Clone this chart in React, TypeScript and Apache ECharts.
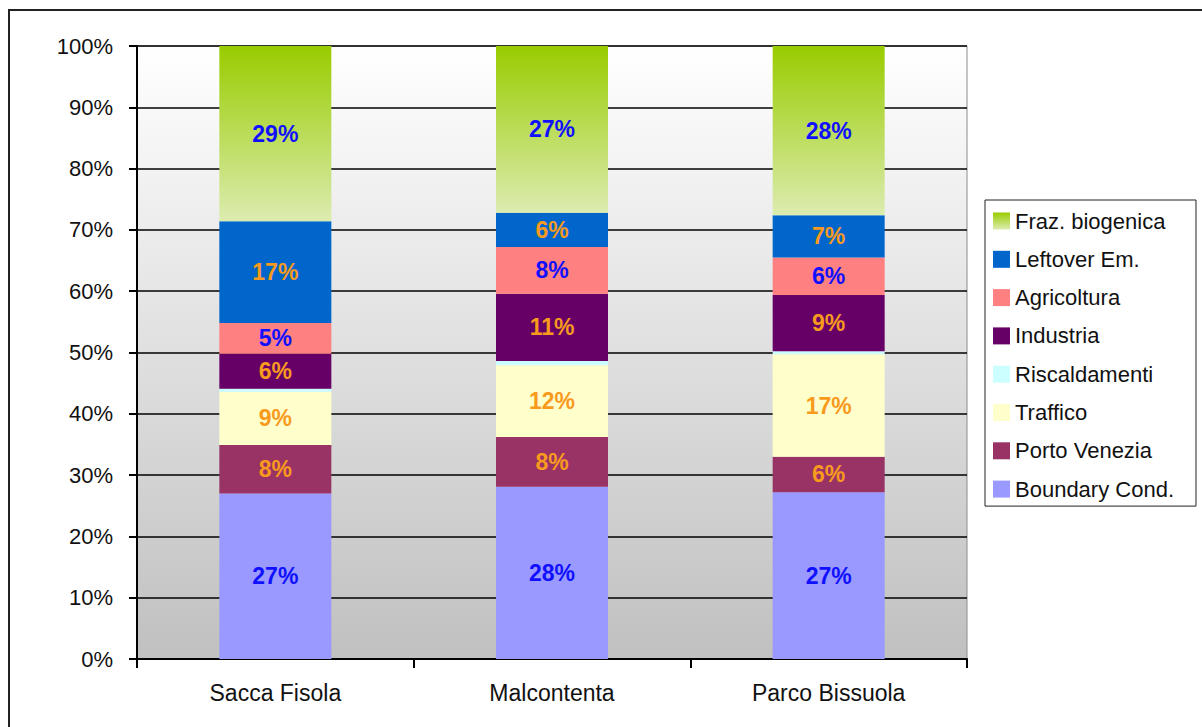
import React, { useEffect, useRef } from "react";
import * as echarts from "echarts";

const categories = ["Sacca Fisola", "Malcontenta", "Parco Bissuola"];

const boundaryCond = [27.0, 28.1, 27.2];
const portoVenezia = [7.9, 8.1, 5.8];
const traffico = [8.7, 11.7, 16.7];
const riscaldamenti = [0.5, 0.7, 0.5];
const industria = [5.7, 11.0, 9.2];
const agricoltura = [5.0, 7.6, 6.1];
const leftoverEm = [16.6, 5.6, 6.9];
const frazBiogenica = [28.6, 27.2, 27.6];

const yTicks = [0, 10, 20, 30, 40, 50, 60, 70, 80, 90, 100];

const BLUE = "#1010ff";
const ORANGE = "#f79a1e";

export default function App() {
  const ref = useRef<HTMLDivElement>(null);

  useEffect(() => {
    if (!ref.current) return;
    const chart = echarts.init(ref.current, undefined, { renderer: "svg" });

    const fontFamily = "'Liberation Sans', Arial, sans-serif";

    const mk = (
      name: string,
      data: number[],
      color: any,
      labelColor: string | null
    ) => ({
      name,
      type: "bar",
      stack: "total",
      data,
      barWidth: 112,
      itemStyle: { color },
      label: {
        show: labelColor !== null,
        position: "inside",
        color: labelColor || "#000",
        fontFamily,
        fontWeight: "bold",
        fontSize: 23,
        formatter: (p: any) => Math.round(p.value) + "%",
      },
    });

    const frazGradient = new echarts.graphic.LinearGradient(0, 0, 0, 1, [
      { offset: 0, color: "#99cc00" },
      { offset: 1, color: "#dcecb0" },
    ]);

    chart.setOption({
      animation: false,
      backgroundColor: "#ffffff",
      textStyle: { fontFamily },
      graphic: [
        {
          type: "rect",
          shape: { x: 9, y: 10, width: 1200, height: 730 },
          style: { fill: "none", stroke: "#222", lineWidth: 2 },
          silent: true,
          z: 100,
        },
      ],
      grid: {
        left: 137,
        right: 235,
        top: 46,
        bottom: 68,
        show: true,
        borderColor: "#8c8c8c",
        borderWidth: 1,
        backgroundColor: new echarts.graphic.LinearGradient(0, 0, 0, 1, [
          { offset: 0, color: "#ffffff" },
          { offset: 1, color: "#c0c0c0" },
        ]),
      },
      legend: {
        orient: "vertical",
        left: 985,
        top: 200,
        padding: [10, 22, 6, 8],
        backgroundColor: "#ffffff",
        borderColor: "#222",
        borderWidth: 1,
        icon: "rect",
        itemWidth: 17,
        itemHeight: 17,
        itemGap: 16.3,
        itemStyle: { borderWidth: 0 },
        textStyle: {
          fontFamily,
          fontSize: 22,
          color: "#111",
        },
        data: [
          "Fraz. biogenica",
          "Leftover Em.",
          "Agricoltura",
          "Industria",
          "Riscaldamenti",
          "Traffico",
          "Porto Venezia",
          "Boundary Cond.",
        ],
      },
      xAxis: {
        type: "category",
        data: categories,
        axisLine: { lineStyle: { color: "#000", width: 2 } },
        axisTick: { show: true, length: 9, lineStyle: { color: "#000", width: 2 } },
        axisLabel: {
          color: "#111",
          fontSize: 23,
          fontFamily,
          margin: 22,
        },
      },
      yAxis: {
        type: "value",
        min: yTicks[0],
        max: yTicks[yTicks.length - 1],
        interval: 10,
        axisLine: { show: true, lineStyle: { color: "#000", width: 2 } },
        axisTick: { show: true, length: 8, lineStyle: { color: "#000", width: 2 } },
        axisLabel: {
          color: "#111",
          fontSize: 22,
          fontFamily,
          margin: 24,
          formatter: (v: number) => v + "%",
        },
        splitLine: { show: true, lineStyle: { color: "#000", width: 1.5 } },
      },
      series: [
        mk("Boundary Cond.", boundaryCond, "#9999ff", BLUE),
        mk("Porto Venezia", portoVenezia, "#993366", ORANGE),
        mk("Traffico", traffico, "#ffffcc", ORANGE),
        mk("Riscaldamenti", riscaldamenti, "#ccffff", null),
        mk("Industria", industria, "#660066", ORANGE),
        mk("Agricoltura", agricoltura, "#ff8080", BLUE),
        mk("Leftover Em.", leftoverEm, "#0066cc", ORANGE),
        mk("Fraz. biogenica", frazBiogenica, frazGradient, BLUE),
      ],
    });

    return () => chart.dispose();
  }, []);

  return (
    <div
      ref={ref}
      style={{ position: "fixed", left: 0, top: 0, width: 1202, height: 727 }}
    />
  );
}
